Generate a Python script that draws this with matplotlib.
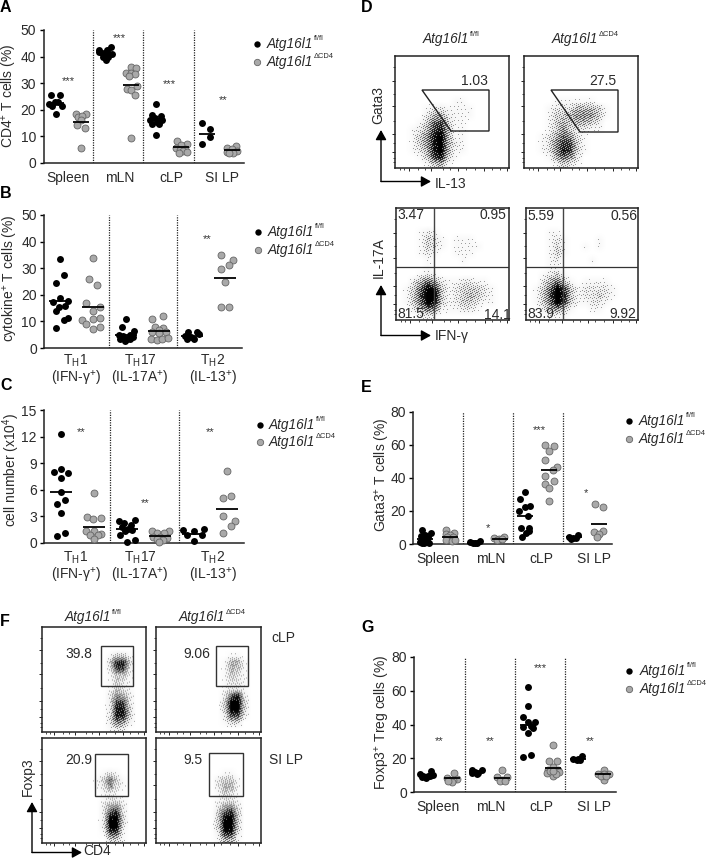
import numpy as np
import matplotlib
matplotlib.use("Agg")
import matplotlib.pyplot as plt
from matplotlib.patches import Polygon, Rectangle

plt.rcParams['font.family'] = ['Liberation Sans', 'DejaVu Sans']
plt.rcParams['mathtext.fontset'] = 'custom'
plt.rcParams['mathtext.rm'] = 'Liberation Sans'
plt.rcParams['mathtext.it'] = 'Liberation Sans:italic'
plt.rcParams['mathtext.default'] = 'regular'

W, H = 708, 858
TXT = '#2a2a2a'
FS = 10
WT_NAME, KO_NAME = 'Atg16l1', 'Atg16l1'
WT_SUP, KO_SUP = 'fl/fl', '\u0394CD4'

# ---------- Panel A ----------
A_labels = ['Spleen', 'mLN', 'cLP', 'SI LP']
A_centers = [55.7, 80.7, 105.3, 130.7, 156, 181.3, 206.7, 231.7]
A_y = [
    [25.4, 25.4, 23, 22, 21.5, 21.3, 22.8, 18.4],
    [18.4, 18.3, 17.3, 17.5, 16, 14.4, 13.1, 5.8],
    [43.6, 42.5, 42.5, 41.6, 41.2, 41, 41.2, 40.9, 40, 39.8, 38.8],
    [36, 35.6, 34, 34, 33.5, 32.8, 27.8, 29, 27.3, 25.4, 9.5],
    [22.3, 18.1, 17.5, 16.9, 16.3, 16, 15.3, 14.8, 14.8, 10.5],
    [8.1, 7.3, 6.9, 5.6, 5.4, 5, 4.4, 3.6, 4.1],
    [14.9, 12.9, 9.6, 7],
    [6.5, 5.8, 5.3, 4.4, 4.1, 3.6, 3.8],
]
A_dx = [
    [-4.7, 4, -0.7, -6.7, 6, -4, 2.7, 0],
    [-4.7, 5, -2.3, 1.7, 0, -4, 4.3, 0],
    [5.3, -6, 1.3, -6.7, -3.3, 6.3, 0, 3.3, -2.7, 3, 0.7],
    [0, 5, -4.7, 0, 4.3, -1.7, -4, 6, 0, 4.3, 0],
    [0, -4.3, 4.7, -1, -6, 5.7, 0.7, -4, 3.3, 0],
    [-4, 6, 0, -5.3, 4, -1.3, 2, -2.7, 6],
    [-4.7, 3.7, 3.7, -4.7],
    [4, -4.3, 0, 5.7, -5, 1, -2.3],
]
A_mean = [22.7, 15.5, 41, 29.5, 16.5, 6, 11, 4.8]

# ---------- Panel B ----------
TH_labels = ['T$_{H}$1\n(IFN-\u03b3$^{+}$)', 'T$_{H}$17\n(IL-17A$^{+}$)', 'T$_{H}$2\n(IL-13$^{+}$)']
B_centers = [60.3, 93.3, 126, 159, 192, 225.3]
B_y = [
    [33.3, 27.4, 24.4, 18.8, 17.3, 15.5, 15.8, 13.8, 11.3, 10.7, 7.7, 17.6],
    [33.8, 26, 23.7, 16.8, 15.3, 13.8, 10.6, 11, 11.3, 9.2, 7, 8],
    [10.8, 8, 6.3, 4.8, 5, 4.5, 4.1, 3.5, 3.3, 2.8, 3.5],
    [11.9, 10.9, 8, 7.5, 6.9, 6, 6, 5.8, 3.3, 2.9, 3.3, 3.8],
    [5.9, 5.9, 4.5, 5.2, 4, 3.5, 3.5],
    [35, 32.9, 31.3, 29.6, 24.7, 15.6, 15.6],
]
B_dx = [
    [0, 4, -4, 0, -7.3, -1.7, 4.7, -4, 8, 4, -4, 7.3],
    [0, -4, 4, -7, 7, 0, -11, 0, 7, -7, 0, 7],
    [0, -3.7, 8, -7, 4, -3.3, 6.7, -6, 0.7, -1, 4],
    [4.3, -7.3, -4, 4.3, 0, -7, 7, 0.3, -8, -2.3, 3.3, 8.7],
    [-3.7, 4.7, -7, 7, -1.3, 2.3, -4.7],
    [-4, 7.7, 4, -4, 0, -4, 4],
]
B_mean = [17.8, 15.5, 5, 6.4, 4.6, 26.5]

# ---------- Panel C ----------
C_centers = [61, 94.3, 127.3, 160.3, 193.3, 227.3]
C_y = [
    [12.3, 8.3, 8, 7.85, 7.3, 5.7, 4.9, 4.45, 3.4, 1.1, 0.75],
    [5.6, 2.9, 2.7, 2.8, 1.3, 1.3, 1, 0.9, 0.85, 0.45],
    [2.45, 2.65, 2.2, 2, 1.8, 1.6, 1.5, 1.4, 0.95, 0.3, 0.15],
    [1.4, 1.4, 1.1, 1.1, 0.7, 0.55, 0.7, 0.5, 0.35, 0.1],
    [1.5, 1.6, 1.3, 0.9, 0.9, 0.2],
    [8.1, 5.3, 5.1, 3, 2.5, 1.9, 1.1],
]
C_dx = [
    [0, 0, -7.3, 7, 0, 0, 4, -4.3, 0, 4, -4.3],
    [0, -7.3, -1, 6.7, -8, 0, 7, -4, 4, 0],
    [-8, 8, -3.3, 3.3, -5.7, 0.3, 4.3, -2.3, -7.3, 7.3, 0],
    [-8, 8.7, -3.7, 4, -7, 7, 0, -3.7, 3, -1],
    [-10, 11, 0.3, -6.7, 8.3, 0.7],
    [0, 3.7, -4.3, -4.3, 8, 3.7, -4.3],
]
C_mean = [5.8, 1.75, 1.55, 0.75, 1, 3.85]

# ---------- Panel E ----------
E_centers = [425, 450, 475, 500, 525, 549.3, 574.3, 599]
E_y = [
    [8.3, 6.7, 5.7, 4.6, 4, 2.6, 2, 1.2, 0.6, 0.8, 0.6],
    [8.3, 6.7, 6.3, 5.7, 4, 4, 2.6, 2, 2.6],
    [1.2, 0.6, 0.8, 1.8, 0.4],
    [3.6, 4, 3, 2.4, 3.2],
    [31.7, 27, 22.8, 22.2, 19.8, 16.8, 9.7, 9.7, 6.7, 7.7, 4.4],
    [60, 59.6, 56.2, 50.9, 46.5, 44.8, 41, 38, 36.4, 34.1, 25.9],
    [4.4, 5.3, 3.6, 3.4, 3.2],
    [24, 22.2, 8, 7.3, 6.3, 4.4],
]
E_dx = [
    [-3.3, 6, 0, -4, 3.3, -1.7, 1.7, -5, -1, 4.3, -3.3],
    [-4, 4, -4.3, 0, -2.7, 3.3, -4, 1.7, 5],
    [-5, -1.7, 1.7, 5, 0],
    [-5.7, 4.3, -0.7, -2.7, 1.7],
    [-0.3, -5, 5, -0.3, -5.7, 3.3, 4.3, -4.3, 1, 4.3, -2.7],
    [-4.3, 4.7, 0, -4, 8, 4, -4, 4.7, -4.3, 0, 0],
    [-5, 4, -1, 1.7, -3.7],
    [-4.3, 4, 3.7, -4.7, -0.3, -2.3],
]
E_mean = [3, 4, 0.7, 3, 17, 44.8, 4, 12]

# ---------- Panel G ----------
G_centers = [426, 451.7, 476.7, 502.3, 528.3, 552.7, 578.3, 603.3]
G_y = [
    [12.4, 10.9, 10.1, 9.7, 9.7, 9.1, 8.5, 9.3],
    [11, 8.3, 7.9, 7.3, 6.9, 5.7, 6.3],
    [13.2, 13.2, 11.7, 11.3, 11.3, 10.9],
    [13, 8.9, 8.7, 7.3, 6.3, 6.7],
    [62.4, 50.8, 44.2, 41.3, 41.5, 39.3, 38.5, 38, 34.8, 20.9, 21.7],
    [27.8, 18.4, 18.4, 13.2, 13.2, 14.8, 11.3, 11.7, 9.7, 12.3, 10.7, 12.3],
    [21.1, 19.8, 18.8, 19.2, 19.8],
    [13, 10.7, 10.7, 10.5, 6.9, 9.4, 9.4],
]
G_dx = [
    [4.7, -6, 6.7, -2.7, 2.3, -4.3, 0, 4],
    [2, -5, 5, -1.7, 1.7, 0, -3.3],
    [-4.7, 5, -1.7, 1.7, -5, 0],
    [0, -5.7, 5, -0.7, -2.3, 2.7],
    [-0.7, -0.7, -5.3, 6.3, 0, 2.3, -5.3, 5, -0.7, -5, 3],
    [0, -4, 4, -4.3, 5.7, 0, -6, 6.7, 0, -2.7, 3.3, 0],
    [4, -5, -1.7, 1.7, 0],
    [0.3, -5, 6, 0.3, 0.3, -2.3, 2.7],
]
G_mean = [9.5, 8.3, 11.8, 8.5, 39.6, 14.5, 19.8, 10.5]

# ---------- Flow cytometry density grids (0 = empty, 9 = densest) ----------
D1 = ["0000000000000000", "0000000000000000", "0000000000000000", "0000000000000000",
      "0000000000000000", "0000000000000000", "0000000011000000", "0000122111100000",
      "0000244211100000", "0001367311000000", "0012478411000000", "0013589411000000",
      "0013589421000000", "0012489411000000", "0001378310000000", "0000134100000000"]
D2 = ["0000000000000000", "0000000000000000", "0000000000000000", "0000000000000000",
      "0000000000000000", "0000000000000000", "0000111111000000", "0001222444310000",
      "0001334555310000", "0001343443200000", "0001353221100000", "0012465210000000",
      "0012577310000000", "0012587310000000", "0001465200000000", "0000132100000000"]
D3 = ["0000000000000000", "0000000000000000", "0000000000000000", "0001210000000000",
      "0001321011100000", "0001321011110000", "0001210011100000", "0000100001000000",
      "0000100000000000", "0001210000000000", "0024642112211000", "0136983123332100",
      "0137993123432100", "0136983123321100", "0024651112210000", "0001210000000000"]
D4 = ["0000000000000000", "0000000000000000", "0000000000000000", "0001100000000000",
      "0001210000100000", "0001310010100000", "0001310000000000", "0001200001000000",
      "0001100000000000", "0012310000000000", "0024631011110000", "0136973122221000",
      "0137983122321000", "0136973112210000", "0024531001100000", "0001110000000000"]
F1 = ["0000000000000000", "0000000000000000", "0000000000000000", "0000000000000000",
      "0000000000133100", "0000000000388300", "0000000000277200", "0000000000133100",
      "0000000000132100", "0000000000132100", "0000000000254200", "0000000000277200",
      "0000000000288300", "0000000000288300", "0000000000265200", "0000000000122000"]
F2 = ["0000000000000000", "0000000000000000", "0000000000000000", "0000000000000000",
      "0000000000011000", "0000000000144100", "0000000000143100", "0000000000132100",
      "0000000000122100", "0000000000122100", "0000000000268200", "0000000000399300",
      "0000000000399300", "0000000000277200", "0000000000133000", "0000000000000000"]
F3 = ["0000000000000000", "0000000000000000", "0000000000000000", "0000000000000000",
      "0000000000000000", "0000000001210000", "0000000013631000", "0000000012521000",
      "0000000001210000", "0000000001221000", "0000000002452000", "0000000002782000",
      "0000000002993000", "0000000002992000", "0000000001771000", "0000000000331000"]
F4 = ["0000000000000000", "0000000000000000", "0000000000000000", "0000000000000000",
      "0000000000000000", "0000000000110000", "0000000002331000", "0000000002441000",
      "0000000001321000", "0000000001221000", "0000000002452000", "0000000003783000",
      "0000000003993000", "0000000003993000", "0000000002882000", "0000000001441000"]

fig = plt.figure(figsize=(W / 100, H / 100), dpi=100)
ov = fig.add_axes([0, 0, 1, 1], zorder=10)
ov.set_xlim(0, W)
ov.set_ylim(H, 0)
ov.axis('off')


def px_axes(l, t, r, b, **kw):
    return fig.add_axes([l / W, 1 - b / H, (r - l) / W, (b - t) / H], **kw)


def name(x, y, nm, sup, size=9.8, ha='left'):
    t = ov.text(x, y, nm, style='italic', fontsize=size, color=TXT, va='center', ha=ha)
    ov.annotate(sup, xy=(1, 0.62), xycoords=t, xytext=(0.5, 0), textcoords='offset points',
                fontsize=5.4, color=TXT, va='bottom', ha='left')


def legend(mx, tx, y1, y2):
    ov.scatter([mx], [y1], s=21, c='black', linewidths=0)
    ov.scatter([mx], [y2], s=21, c='#a9a9a9', edgecolors='#666666', linewidths=0.6)
    name(tx, y1, WT_NAME, WT_SUP)
    name(tx, y2, KO_NAME, KO_SUP)


def stars(items):
    for x, y, s in items:
        ov.text(x, y + 2, s, ha='center', va='center', fontsize=8, color='#333333')


def dotplot(box, ylim, yticks, centers, ys, dxs, means, hw, seps, xt, xl, xpad=6, ms=25):
    l, t, r, b = box
    ax = px_axes(l, t, r, b)
    ax.patch.set_alpha(0)
    ax.set_xlim(l, r)
    ax.set_ylim(*ylim)
    for i, (c, yy, dd, m) in enumerate(zip(centers, ys, dxs, means)):
        xs = [c + d for d in dd]
        if i % 2 == 0:
            ax.scatter(xs, yy, s=ms, c='black', linewidths=0, clip_on=False, zorder=3)
        else:
            ax.scatter(xs, yy, s=ms, c='#a9a9a9', edgecolors='#666666', linewidths=0.6,
                       clip_on=False, zorder=3)
        ax.plot([c - hw, c + hw], [m, m], color='black', lw=1.3, zorder=4, solid_capstyle='butt')
    for s in seps:
        ax.axvline(s, color='#222222', lw=0.9, ls=(0, (1, 1)), zorder=1)
    for sp in ('top', 'right'):
        ax.spines[sp].set_visible(False)
    for sp in ('left', 'bottom'):
        ax.spines[sp].set_linewidth(1.1)
        ax.spines[sp].set_color('#222222')
    ax.set_yticks(yticks)
    ax.set_xticks(xt)
    ax.set_xticklabels(xl, linespacing=1.0)
    ax.tick_params(axis='y', length=3.2, width=1.0, labelsize=FS, pad=2, labelcolor=TXT)
    ax.tick_params(axis='x', length=0, labelsize=FS, pad=xpad, labelcolor=TXT)
    return ax


def halftone(grid, nx, ny):
    # stipple rendering of a typed density grid: soft grey tone plus an ordered dither,
    # without any random numbers
    arr = np.array([[int(ch) for ch in row] for row in grid], dtype=float) / 9.0
    rows, cols = arr.shape
    xi = (np.arange(nx) + 0.5) / nx * cols - 0.5
    yi = (np.arange(ny) + 0.5) / ny * rows - 0.5
    tmp = np.array([np.interp(xi, np.arange(cols), r) for r in arr])
    fine = np.array([np.interp(yi, np.arange(rows), c) for c in tmp.T]).T
    xx, yy = np.meshgrid(np.arange(nx), np.arange(ny))
    thr = (xx * 0.7548777 + yy * 0.5698403) % 1.0
    dots = (fine ** 1.1 > thr * 0.97 + 0.03).astype(float)
    return np.clip(0.6 * fine ** 1.1 + 0.42 * dots, 0, 1)


def flow(box, grid):
    l, t, r, b = box
    ax = px_axes(l, t, r, b)
    img = halftone(grid, int(round(r - l)), int(round(b - t)))
    ax.imshow(img, extent=(0, 1, 0, 1), origin='upper', aspect='auto', cmap='Greys',
              vmin=0, vmax=1, interpolation='bilinear', zorder=1)
    ax.set_xlim(0, 1)
    ax.set_ylim(0, 1)
    ax.set_xticks([0.12, 0.32, 0.55, 0.78, 0.98])
    ax.set_xticks([0.04, 0.08, 0.2, 0.26, 0.42, 0.48, 0.62, 0.7, 0.85, 0.92], minor=True)
    ax.set_yticks([0.14, 0.3, 0.55, 0.78])
    ax.set_yticks([0.05, 0.09, 0.22, 0.42, 0.66, 0.9], minor=True)
    ax.tick_params(which='major', length=2.2, width=0.6, labelleft=False, labelbottom=False)
    ax.tick_params(which='minor', length=1.2, width=0.5)
    for sp in ax.spines.values():
        sp.set_linewidth(1.1)
        sp.set_color('#222222')
    return ax


def to_frac(box, x, y):
    l, t, r, b = box
    return (x - l) / (r - l), 1 - (y - t) / (b - t)


def arrows(cx, cy, top, right):
    kw = dict(arrowstyle='-|>,head_length=0.45,head_width=0.25', color='black', lw=1.0,
              shrinkA=0, shrinkB=0, mutation_scale=13)
    ov.annotate('', xy=(cx, top), xytext=(cx, cy), arrowprops=kw)
    ov.annotate('', xy=(right, cy), xytext=(cx, cy), arrowprops=kw)


def ylab(x, y, s):
    ov.text(x, y, s, rotation=90, fontsize=FS, color=TXT, ha='center', va='center')


# ---- A
dotplot((43.5, 30, 243.5, 163), (0, 50), [0, 10, 20, 30, 40, 50], A_centers, A_y, A_dx, A_mean, 8,
        [93, 143.3, 194.3], [68, 120, 171, 222], A_labels)
ylab(9.5, 96, 'CD4$^{+}$ T cells (%)')
legend(257, 267, 44, 62)
stars([(68, 79, '***'), (119, 36, '***'), (169, 82, '***'), (223, 98, '**')])

# ---- B
dotplot((44, 215, 242, 348), (0, 50), [0, 10, 20, 30, 40, 50], B_centers, B_y, B_dx, B_mean, 11,
        [108.7, 177.3], [76, 140, 213], TH_labels, xpad=3.5)
ylab(10.5, 278, 'cytokine$^{+}$ T cells (%)')
legend(258, 268, 232, 250)
stars([(207, 237, '**')])

# ---- C
dotplot((44, 410, 244, 543), (0, 15), [0, 3, 6, 9, 12, 15], C_centers, C_y, C_dx, C_mean, 11,
        [109.7, 179], [76, 140, 213], TH_labels, xpad=4.5)
ylab(11, 470, 'cell number (x10$^{4}$)')
legend(260, 269, 425, 442)
stars([(81, 430, '**'), (145, 501, '**'), (210, 430, '**')])

# ---- E
dotplot((413, 412, 612, 544), (0, 80), [0, 20, 40, 60, 80], E_centers, E_y, E_dx, E_mean, 8,
        [463, 513, 563], [438, 491, 541, 594], A_labels)
ylab(382, 475, 'Gata3$^{+}$ T cells (%)')
legend(629, 639, 421, 439)
stars([(488, 526, '*'), (539, 428, '***'), (586, 491, '*')])

# ---- G
dotplot((414, 657, 616, 792), (0, 80), [0, 20, 40, 60, 80], G_centers, G_y, G_dx, G_mean, 8,
        [465, 515, 565], [438, 491, 541, 594], A_labels)
ylab(382, 722, 'Foxp3$^{+}$ Treg cells (%)')
legend(629, 640, 671, 689)
stars([(439, 739, '**'), (490, 739, '**'), (540, 666, '***'), (590, 739, '**')])

# ---- D top
bx1 = (395, 56, 509, 168)
bx2 = (524, 56, 638, 168)
a1 = flow(bx1, D1)
a2 = flow(bx2, D2)
for ax, bx, poly in [(a1, bx1, [(422, 90), (489, 90), (489, 131), (451, 131)]),
                     (a2, bx2, [(551, 90), (618, 90), (618, 132), (580, 132)])]:
    ax.add_patch(Polygon([to_frac(bx, *p) for p in poly], closed=True, fill=False, ec='#222222', lw=1.0, zorder=3))
ov.text(474, 81, '1.03', fontsize=FS, color=TXT, ha='center', va='center')
ov.text(603, 81, '27.5', fontsize=FS, color=TXT, ha='center', va='center')
name(423, 39.5, WT_NAME, WT_SUP)
name(552, 39.5, KO_NAME, KO_SUP)
ylab(378, 105, 'Gata3')
ov.text(451, 184.5, 'IL-13', fontsize=FS, color=TXT, ha='center', va='center')
arrows(381, 181.5, 130, 431)

# ---- D bottom
bx3 = (396, 208, 509.5, 320)
bx4 = (526, 208, 638, 320)
a3 = flow(bx3, D3)
a4 = flow(bx4, D4)
for ax, bx, vx, hy in [(a3, bx3, 434, 266.5), (a4, bx4, 563, 266.5)]:
    fx, fy = to_frac(bx, vx, hy)
    ax.axvline(fx, color='#444444', lw=1.0, zorder=3)
    ax.axhline(fy, color='#333333', lw=0.9, zorder=3)
for x, y, s in [(411, 215, '3.47'), (493, 215, '0.95'), (411, 314, '81.5'), (497, 315, '14.1'),
                (541, 216, '5.59'), (624, 216, '0.56'), (541, 314, '83.9'), (623, 314, '9.92')]:
    ov.text(x, y, s, fontsize=FS, color=TXT, ha='center', va='center')
ylab(379, 258, 'IL-17A')
ov.text(452, 336, 'IFN-\u03b3', fontsize=FS, color=TXT, ha='center', va='center')
arrows(381, 335.5, 285, 431)

# ---- F
fb1 = (42, 627, 146, 732)
fb2 = (156, 627, 261, 732)
fb3 = (42, 738, 146, 843)
fb4 = (156, 738, 261, 843)
gates = [(101, 646, 133, 686), (216, 646, 248, 686), (95, 754, 128, 796), (209, 753, 243, 796)]
for bx, grid, g in zip((fb1, fb2, fb3, fb4), (F1, F2, F3, F4), gates):
    ax = flow(bx, grid)
    x0, y1 = to_frac(bx, g[0], g[3])
    x1, y0 = to_frac(bx, g[2], g[1])
    ax.add_patch(Rectangle((x0, y1), x1 - x0, y0 - y1, fill=False, ec='#333333', lw=1.0, zorder=3))
for x, y, s in [(79, 654, '39.8'), (197, 654, '9.06'), (79, 760, '20.9'), (193, 760, '9.5'),
                (283, 638, 'cLP'), (286, 760, 'SI LP')]:
    ov.text(x, y, s, fontsize=FS, color=TXT, ha='center', va='center')
name(65, 617.5, WT_NAME, WT_SUP)
name(179, 617.5, KO_NAME, KO_SUP)
ylab(28, 777, 'Foxp3')
ov.text(97, 851, 'CD4', fontsize=FS, color=TXT, ha='center', va='center')
arrows(32, 852.5, 802, 82)

# ---- Panel letters
for x, y, s in [(0, 7, 'A'), (0, 194, 'B'), (0, 386, 'C'), (361, 7, 'D'),
                (361, 388, 'E'), (0, 622, 'F'), (361, 628, 'G')]:
    ov.text(x, y, s, fontsize=11.5, fontweight='bold', color='black', ha='left', va='center')

fig.savefig('out.png', dpi=100)
